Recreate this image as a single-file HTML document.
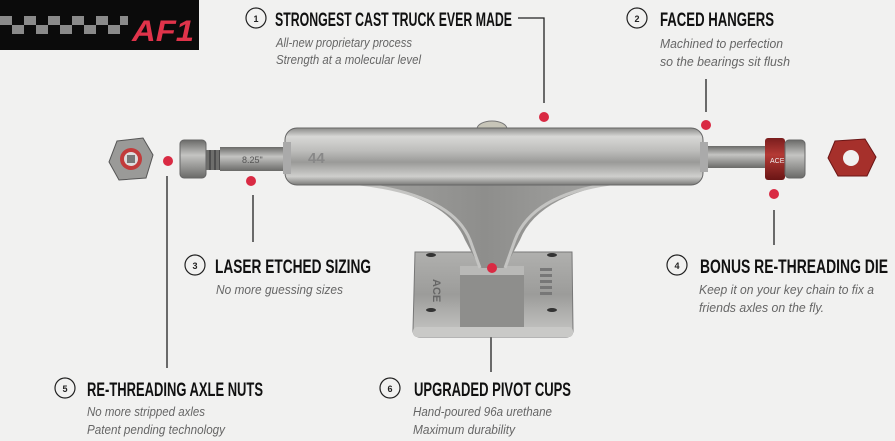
<!DOCTYPE html>
<html><head><meta charset="utf-8"><style>
html,body{margin:0;padding:0;background:#f1f1f0;}
svg{display:block}
.t{font-family:"Liberation Sans Narrow","Liberation Sans",sans-serif;font-weight:bold;font-size:19px;fill:#111}
.s{font-family:"Liberation Sans Narrow","Liberation Sans",sans-serif;font-style:italic;font-size:13px;fill:#666}
.n{font-family:"Liberation Sans",sans-serif;font-weight:bold;font-size:9px;fill:#222}
</style></head><body>
<svg width="895" height="441" viewBox="0 0 895 441" xmlns="http://www.w3.org/2000/svg">
<defs>
<linearGradient id="hg" x1="0" y1="0" x2="0" y2="1">
<stop offset="0" stop-color="#8a8a88"/><stop offset="0.15" stop-color="#d8d8d6"/><stop offset="0.4" stop-color="#bdbdbb"/><stop offset="0.6" stop-color="#9a9a98"/><stop offset="0.85" stop-color="#cfcfcd"/><stop offset="1" stop-color="#7a7a78"/></linearGradient>
<linearGradient id="ag" x1="0" y1="0" x2="0" y2="1">
<stop offset="0" stop-color="#6a6a68"/><stop offset="0.4" stop-color="#c4c4c2"/><stop offset="1" stop-color="#6a6a68"/></linearGradient>
<linearGradient id="bg2" x1="0" y1="0" x2="0" y2="1">
<stop offset="0" stop-color="#b0b0ae"/><stop offset="0.5" stop-color="#9c9c9a"/><stop offset="1" stop-color="#c8c8c6"/></linearGradient>
<linearGradient id="rg" x1="0" y1="0" x2="0" y2="1">
<stop offset="0" stop-color="#7a1d1d"/><stop offset="0.4" stop-color="#b43a35"/><stop offset="1" stop-color="#6a1515"/></linearGradient>
<linearGradient id="ng" x1="0" y1="0" x2="1" y2="0">
<stop offset="0" stop-color="#a4a4a2"/><stop offset="0.5" stop-color="#8e8e8c"/><stop offset="1" stop-color="#a8a8a6"/></linearGradient>
</defs>
<!-- logo -->
<rect x="0" y="0" width="199" height="50" fill="#0b0b0b"/>
<g fill="#8a8a8a">
<rect x="0" y="16" width="12" height="9"/><rect x="24" y="16" width="12" height="9"/><rect x="48" y="16" width="12" height="9"/><rect x="72" y="16" width="12" height="9"/><rect x="96" y="16" width="12" height="9"/><rect x="120" y="16" width="8" height="9"/>
<rect x="12" y="25" width="12" height="9"/><rect x="36" y="25" width="12" height="9"/><rect x="60" y="25" width="12" height="9"/><rect x="84" y="25" width="12" height="9"/><rect x="108" y="25" width="12" height="9"/>
</g>
<text x="132" y="41" font-family="Liberation Sans,sans-serif" font-weight="bold" font-style="italic" font-size="30" fill="#e0334a" textLength="62" lengthAdjust="spacingAndGlyphs">AF1</text>

<!-- connectors -->
<g stroke="#222" stroke-width="1.3" fill="none">
<polyline points="518,18 544,18 544,103"/>
<line x1="706" y1="79" x2="706" y2="112"/>
<line x1="167" y1="176" x2="167" y2="368"/>
<line x1="253" y1="195" x2="253" y2="242"/>
<line x1="774" y1="210" x2="774" y2="245"/>
<line x1="491" y1="278" x2="491" y2="372"/>
</g>

<!-- truck -->
<polygon points="117,141 143,138 153,155 146,178 119,180 109,162" fill="#9a9a98" stroke="#555"/>
<circle cx="131" cy="159" r="11" fill="#c23b3b"/><circle cx="131" cy="159" r="7" fill="#ddd"/><rect x="127" y="155" width="8" height="8" fill="#777"/>
<rect x="200" y="150" width="48" height="20" fill="#6e6e6c"/>
<g stroke="#3a3a3a" stroke-width="1.2"><line x1="205" y1="150" x2="205" y2="170"/><line x1="210" y1="150" x2="210" y2="170"/><line x1="215" y1="150" x2="215" y2="170"/><line x1="220" y1="150" x2="220" y2="170"/><line x1="225" y1="150" x2="225" y2="170"/><line x1="230" y1="150" x2="230" y2="170"/></g>
<rect x="220" y="147" width="70" height="24" fill="url(#ag)"/>
<text x="242" y="163" font-family="Liberation Sans,sans-serif" font-size="9" fill="#555">8.25"</text>
<rect x="180" y="140" width="26" height="38" rx="4" fill="url(#ag)" stroke="#666"/>
<rect x="695" y="146" width="75" height="22" fill="url(#ag)"/>
<rect x="765" y="138" width="20" height="42" rx="3" fill="url(#rg)"/>
<text x="770" y="163" font-family="Liberation Sans,sans-serif" font-size="7" fill="#eee">ACE</text>
<rect x="785" y="140" width="20" height="38" rx="4" fill="url(#ag)" stroke="#666"/>
<polygon points="835,141 865,139 876,157 867,176 838,176 828,158" fill="#a6302b" stroke="#6a1515"/>
<circle cx="851" cy="158" r="8" fill="#f1f1f0"/>
<ellipse cx="492" cy="129" rx="15" ry="8" fill="#c7c5b8" stroke="#777"/>
<!-- baseplate -->
<path d="M415 252 L572 252 L573 330 Q573 337 566 337 L420 337 Q413 337 413 330 Z" fill="url(#bg2)" stroke="#777"/>
<rect x="413" y="327" width="160" height="10" rx="4" fill="#c9c9c7"/>
<rect x="460" y="270" width="64" height="57" fill="#8e8e8c"/>
<rect x="460" y="266" width="64" height="9" fill="#b9b9b7"/>
<g fill="#333"><ellipse cx="431" cy="255" rx="5" ry="2"/><ellipse cx="431" cy="310" rx="5" ry="2"/><ellipse cx="552" cy="255" rx="5" ry="2"/><ellipse cx="552" cy="310" rx="5" ry="2"/></g>
<text x="432" y="290" font-family="Liberation Sans,sans-serif" font-size="11" font-weight="bold" fill="#666" transform="rotate(90 438 285)">ACE</text>
<g fill="#777"><rect x="540" y="268" width="12" height="3"/><rect x="540" y="274" width="12" height="3"/><rect x="540" y="280" width="12" height="3"/><rect x="540" y="286" width="12" height="3"/><rect x="540" y="292" width="12" height="3"/></g>
<!-- neck -->
<path d="M330 180 L640 180 Q540 190 520 240 L505 268 L480 268 L465 240 Q445 190 330 180 Z" fill="url(#ng)"/>
<path d="M480 268 L470 240 Q452 195 360 184" stroke="#c4c4c2" stroke-width="3" fill="none"/>
<path d="M505 268 L515 240 Q532 195 610 184" stroke="#c4c4c2" stroke-width="3" fill="none"/>
<!-- hanger -->
<rect x="285" y="128" width="418" height="57" rx="12" fill="url(#hg)" stroke="#666"/>
<rect x="700" y="142" width="8" height="30" fill="#aaa"/>
<rect x="283" y="142" width="8" height="32" fill="#aaa"/>
<text x="308" y="163" font-family="Liberation Sans,sans-serif" font-size="15" font-weight="bold" fill="#888">44</text>

<g fill="#d92a43">
<circle cx="544" cy="117" r="5"/><circle cx="706" cy="125" r="5"/><circle cx="168" cy="161" r="5"/><circle cx="251" cy="181" r="5"/><circle cx="774" cy="194" r="5"/><circle cx="492" cy="268" r="5"/>
</g>

<g fill="none" stroke="#222" stroke-width="1.2">
<circle cx="256" cy="18" r="10"/><circle cx="637" cy="18" r="10"/><circle cx="195" cy="265" r="10"/><circle cx="677" cy="265" r="10"/><circle cx="65" cy="388" r="10"/><circle cx="390" cy="388" r="10"/>
</g>
<g class="n" text-anchor="middle">
<text x="256" y="22">1</text><text x="637" y="22">2</text><text x="195" y="269">3</text><text x="677" y="269">4</text><text x="65" y="392">5</text><text x="390" y="392">6</text>
</g>
<text class="t" x="275" y="26" textLength="237" lengthAdjust="spacingAndGlyphs">STRONGEST CAST TRUCK EVER MADE</text>
<text class="s" x="276" y="47" textLength="136" lengthAdjust="spacingAndGlyphs">All-new proprietary process</text>
<text class="s" x="276" y="64" textLength="145" lengthAdjust="spacingAndGlyphs">Strength at a molecular level</text>
<text class="t" x="660" y="26" textLength="114" lengthAdjust="spacingAndGlyphs">FACED HANGERS</text>
<text class="s" x="660" y="48" textLength="123" lengthAdjust="spacingAndGlyphs">Machined to perfection</text>
<text class="s" x="660" y="66" textLength="130" lengthAdjust="spacingAndGlyphs">so the bearings sit flush</text>
<text class="t" x="215" y="273" textLength="156" lengthAdjust="spacingAndGlyphs">LASER ETCHED SIZING</text>
<text class="s" x="216" y="294" textLength="127" lengthAdjust="spacingAndGlyphs">No more guessing sizes</text>
<text class="t" x="700" y="273" textLength="188" lengthAdjust="spacingAndGlyphs">BONUS RE-THREADING DIE</text>
<text class="s" x="699" y="294" textLength="175" lengthAdjust="spacingAndGlyphs">Keep it on your key chain to fix a</text>
<text class="s" x="699" y="312" textLength="125" lengthAdjust="spacingAndGlyphs">friends axles on the fly.</text>
<text class="t" x="87" y="396" textLength="176" lengthAdjust="spacingAndGlyphs">RE-THREADING AXLE NUTS</text>
<text class="s" x="87" y="416" textLength="118" lengthAdjust="spacingAndGlyphs">No more stripped axles</text>
<text class="s" x="87" y="434" textLength="138" lengthAdjust="spacingAndGlyphs">Patent pending technology</text>
<text class="t" x="414" y="396" textLength="157" lengthAdjust="spacingAndGlyphs">UPGRADED PIVOT CUPS</text>
<text class="s" x="413" y="416" textLength="139" lengthAdjust="spacingAndGlyphs">Hand-poured 96a urethane</text>
<text class="s" x="413" y="434" textLength="102" lengthAdjust="spacingAndGlyphs">Maximum durability</text>
</svg>
</body></html>
